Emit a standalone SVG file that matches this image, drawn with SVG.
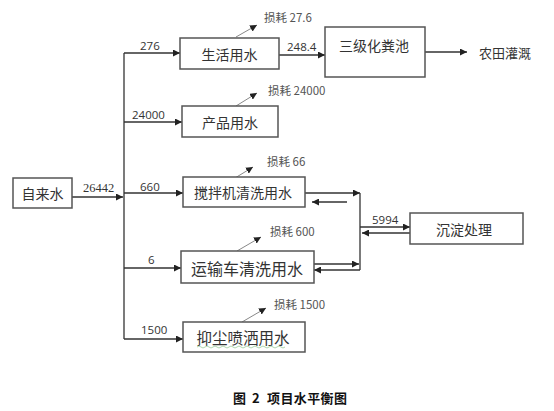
<svg xmlns="http://www.w3.org/2000/svg" width="554" height="411" viewBox="0 0 554 411">
<defs>
<marker id="ah" viewBox="0 0 10 10" refX="10" refY="5" markerWidth="7" markerHeight="7" markerUnits="userSpaceOnUse" orient="auto">
<path d="M0,0 L10,5 L0,10 z" fill="#222"/>
</marker>
<style>
.box{fill:#fff;stroke:#555;stroke-width:1.5}
.bt{font-family:"Noto Sans CJK SC","Noto Sans",sans-serif;font-size:14px;fill:#333;text-anchor:middle;dominant-baseline:central}
.num{font-family:"Open Sans","Noto Sans",sans-serif;font-size:11.5px;fill:#333}
.loss{font-family:"Noto Sans CJK SC","Noto Sans",sans-serif;font-size:11.5px;fill:#555}
.ln{stroke:#333;stroke-width:1.3;fill:none}
.gl{stroke:#888;stroke-width:1;fill:none}
.cap{font-family:"Noto Sans CJK SC",sans-serif;font-weight:bold;font-size:13px;fill:#111}
</style>
</defs>
<rect width="554" height="411" fill="#fff"/>

<g id="connectors">
<path class="ln" d="M124,53 V339"/>
<path class="ln" d="M72,197 H123" marker-end="url(#ah)"/>
<path class="ln" d="M124,53 H180" marker-end="url(#ah)"/>
<path class="ln" d="M124,122 H182" marker-end="url(#ah)"/>
<path class="ln" d="M124,193 H183" marker-end="url(#ah)"/>
<path class="ln" d="M124,268 H181" marker-end="url(#ah)"/>
<path class="ln" d="M124,339 H183" marker-end="url(#ah)"/>
<path class="ln" d="M279,55 H325" marker-end="url(#ah)"/>
<path class="ln" d="M425,52 H467" marker-end="url(#ah)"/>
<path class="ln" d="M305,193 H360" marker-end="url(#ah)"/>
<path class="ln" d="M347,202 H312" marker-end="url(#ah)"/>
<path class="ln" d="M360,193 V270"/>
<path class="ln" d="M314,264 H359" marker-end="url(#ah)"/>
<path class="ln" d="M360,270 H314" marker-end="url(#ah)"/>
<path class="ln" d="M360,227 H410" marker-end="url(#ah)"/>
<path class="ln" d="M410,233 H362" marker-end="url(#ah)"/>
<path class="gl" d="M236,37 L257,25" marker-end="url(#ah)"/>
<path class="gl" d="M236,106 L257,93" marker-end="url(#ah)"/>
<path class="gl" d="M235,178 L253,167" marker-end="url(#ah)"/>
<path class="gl" d="M237,251 L261,237" marker-end="url(#ah)"/>
<path class="gl" d="M242,322 L266,308" marker-end="url(#ah)"/>
</g>

<g id="labels">
<text class="num" x="140" y="50">276</text>
<text class="num" x="132" y="119">24000</text>
<text x="83" y="192" font-family="Liberation Serif,serif" font-size="12.5" fill="#333">26442</text>
<text class="num" x="140" y="191">660</text>
<text class="num" x="148" y="264">6</text>
<text class="num" x="141" y="334">1500</text>
<text class="num" x="287" y="51">248.4</text>
<text class="num" x="372" y="224">5994</text>
<text class="loss" x="264" y="22">损耗 27.6</text>
<text class="loss" x="268" y="95">损耗 24000</text>
<text class="loss" x="267" y="166">损耗 66</text>
<text class="loss" x="270" y="236">损耗 600</text>
<text class="loss" x="274" y="309">损耗 1500</text>
<text x="479" y="52" font-family="Noto Sans CJK SC,sans-serif" font-size="13" fill="#333" dominant-baseline="central">农田灌溉</text>
</g>

<g id="n-zilaishui"><rect class="box" x="13" y="178" width="59" height="30"/><text class="bt" x="42.5" y="193">自来水</text></g>
<g id="n-shenghuo"><rect class="box" x="180" y="38" width="99" height="31"/><text class="bt" x="229.5" y="53.5">生活用水</text></g>
<g id="n-chanpin"><rect class="box" x="182" y="106" width="96" height="31"/><text class="bt" x="230" y="121.5">产品用水</text></g>
<g id="n-jiaoban"><rect class="box" x="183" y="177" width="122" height="30"/><text class="bt" x="243" y="192">搅拌机清洗用水</text></g>
<g id="n-yunshu"><rect class="box" x="181" y="251" width="133" height="32"/><text class="bt" x="247" y="268" style="font-size:16px">运输车清洗用水</text></g>
<g id="n-yichen"><rect class="box" x="183" y="322" width="122" height="30"/><text class="bt" x="243" y="337" style="font-size:15.5px">抑尘喷洒用水</text>
<path d="M197,347 q2,-2 4,0 t4,0 t4,0 t4,0 t4,0 t4,0 t4,0 t4,0 t4,0 t4,0 t4,0 t4,0 t4,0 t4,0 t4,0 t4,0 t4,0 t4,0 t4,0 t4,0 t4,0 t4,0" fill="none" stroke="#9c9" stroke-width="0.8"/></g>
<g id="n-sanji"><rect class="box" x="325" y="27" width="100" height="50"/><text class="bt" x="374" y="45">三级化粪池</text></g>
<g id="n-chendian"><rect class="box" x="410" y="213" width="113" height="31"/><text class="bt" x="464" y="228.5">沉淀处理</text></g>

<text class="cap" y="403"><tspan x="233">图</tspan><tspan x="252">2</tspan><tspan x="267" letter-spacing="0.4">项目水平衡图</tspan></text>
</svg>
